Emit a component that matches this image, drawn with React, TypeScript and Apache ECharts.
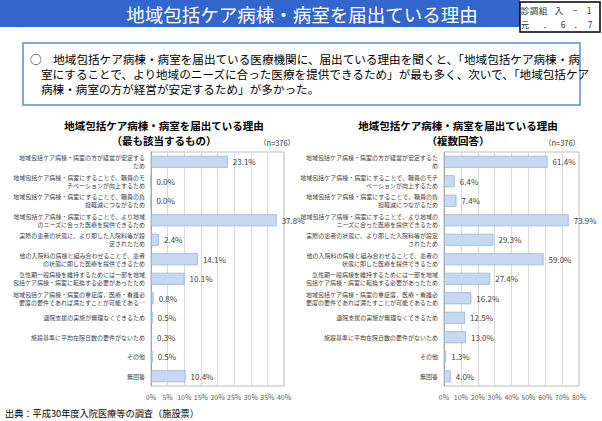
import React, { useEffect, useRef } from "react";
import * as echarts from "echarts";

const leftCategories = [
  "地域包括ケア病棟・病室の方が経営が安定する\nため",
  "地域包括ケア病棟・病室にすることで、職員のモ\nチベーションが向上するため",
  "地域包括ケア病棟・病室にすることで、職員の負\n担軽減につながるため",
  "地域包括ケア病棟・病室にすることで、より地域\nのニーズに合った医療を提供できるため",
  "実際の患者の状態に、より即した入院料等が設\n定されたため",
  "他の入院料の病棟と組み合わせることで、患者\nの状態に即した医療を提供できるため",
  "急性期一般病棟を維持するためには一部を地域\n包括ケア病棟・病室に転換する必要があったため",
  "地域包括ケア病棟・病室の重症度，医療・看護必\n要度の要件であれば満たすことが可能である…",
  "退院支援の実施が無理なくできるため",
  "施設基準に平均在院日数の要件がないため",
  "その他",
  "無回答",
];

const rightCategories = [
  "地域包括ケア病棟・病室の方が経営が安定するた\nめ",
  "地域包括ケア病棟・病室にすることで、職員のモチ\nベーションが向上するため",
  "地域包括ケア病棟・病室にすることで、職員の負\n担軽減につながるため",
  "地域包括ケア病棟・病室にすることで、より地域の\nニーズに合った医療を提供できるため",
  "実際の患者の状態に、より即した入院料等が設定\nされたため",
  "他の入院料の病棟と組み合わせることで、患者の\n状態に即した医療を提供できるため",
  "急性期一般病棟を維持するためには一部を地域\n包括ケア病棟・病室に転換する必要があったため",
  "地域包括ケア病棟・病室の重症度，医療・看護必\n要度の要件であれば満たすことが可能であるため",
  "退院支援の実施が無理なくできるため",
  "施設基準に平均在院日数の要件がないため",
  "その他",
  "無回答",
];

const leftValues = [23.1, 0.0, 0.0, 37.8, 2.4, 14.1, 10.1, 0.8, 0.5, 0.3, 0.5, 10.4];
const rightValues = [61.4, 6.4, 7.4, 73.9, 29.3, 59.0, 27.4, 16.2, 12.5, 13.0, 1.3, 4.0];

const leftAxisMax = 40;
const leftAxisInterval = 5;
const rightAxisMax = 80;
const rightAxisInterval = 10;

const headerTitle = "地域包括ケア病棟・病室を届出ている理由";
const summaryLines = [
  "○　地域包括ケア病棟・病室を届出ている医療機関に、届出ている理由を聞くと、「地域包括ケア病棟・病",
  "室にすることで、より地域のニーズに合った医療を提供できるため」が最も多く、次いで、「地域包括ケア",
  "病棟・病室の方が経営が安定するため」が多かった。",
];
const leftTitle = ["地域包括ケア病棟・病室を届出ている理由", "（最も該当するもの）"];
const rightTitle = ["地域包括ケア病棟・病室を届出ている理由", "（複数回答）"];
const sampleLabel = "（n=376）";
const footer = "出典：平成30年度入院医療等の調査（施設票）";
const tagLine1 = ["診", "調", "組", "入", "−", "1"];
const tagLine2 = ["元", "．", "6", "．", "7"];

const FONT = "'Noto Sans CJK JP', 'Noto Sans', sans-serif";

export default function App() {
  const ref = useRef<HTMLDivElement>(null);

  useEffect(() => {
    document.body.style.margin = "0";
    if (!ref.current) return;
    const chart = echarts.init(ref.current, null, { renderer: "svg" });

    const tag1X = [525, 534, 543, 559, 575, 589];
    const tag2X = [525, 547, 563, 578, 590];

    const graphic: any[] = [
      { type: "rect", shape: { x: 0, y: 0, width: 520, height: 27 }, style: { fill: "#3366cc" } },
      {
        type: "text",
        x: 302,
        y: 14,
        style: {
          text: headerTitle,
          fill: "#ffffff",
          fontSize: 18.5,
          fontFamily: FONT,
          align: "center",
          verticalAlign: "middle",
        },
      },
      {
        type: "rect",
        shape: { x: 520, y: 2, width: 80, height: 30 },
        style: { fill: "#ffffff", stroke: "#000000", lineWidth: 1.5 },
      },
      ...tagLine1.map((c, i) => ({
        type: "text",
        x: tag1X[i],
        y: 10,
        style: { text: c, fill: "#333", fontSize: 8.5, fontFamily: FONT, align: "center", verticalAlign: "middle" },
      })),
      ...tagLine2.map((c, i) => ({
        type: "text",
        x: tag2X[i],
        y: 24,
        style: { text: c, fill: "#333", fontSize: 8.5, fontFamily: FONT, align: "center", verticalAlign: "middle" },
      })),
      {
        type: "rect",
        shape: { x: 23, y: 43, width: 557, height: 62 },
        style: { fill: "#ffffff", stroke: "#5b8ad6", lineWidth: 1.5 },
      },
      ...summaryLines.map((t, i) => ({
        type: "text",
        x: i === 0 ? 30 : 41,
        y: 59 + i * 15,
        style: { text: t, fill: "#000", fontSize: 11.6, fontFamily: FONT, align: "left", verticalAlign: "middle" },
      })),
      ...leftTitle.map((t, i) => ({
        type: "text",
        x: 164,
        y: 125 + i * 15,
        style: { text: t, fill: "#000", fontSize: 10.5, fontWeight: "bold", fontFamily: FONT, align: "center", verticalAlign: "middle" },
      })),
      ...rightTitle.map((t, i) => ({
        type: "text",
        x: 458,
        y: 125 + i * 15,
        style: { text: t, fill: "#000", fontSize: 10.5, fontWeight: "bold", fontFamily: FONT, align: "center", verticalAlign: "middle" },
      })),
      {
        type: "text",
        x: 277,
        y: 142,
        style: { text: sampleLabel, fill: "#333", fontSize: 7.5, fontFamily: FONT, align: "center", verticalAlign: "middle" },
      },
      {
        type: "text",
        x: 562,
        y: 142,
        style: { text: sampleLabel, fill: "#333", fontSize: 7.5, fontFamily: FONT, align: "center", verticalAlign: "middle" },
      },
      {
        type: "text",
        x: 5,
        y: 413,
        style: { text: footer, fill: "#000", fontSize: 9.2, fontFamily: FONT, align: "left", verticalAlign: "middle" },
      },
    ];

    const yAxisCommon = {
      type: "category",
      inverse: true,
      axisTick: { show: false },
      axisLine: { show: true, lineStyle: { color: "#a6a6a6", width: 1 } },
      axisLabel: { fontSize: 6, lineHeight: 8.2, color: "#404040", margin: 6, fontFamily: FONT, align: "right" },
    };
    const xAxisCommon = {
      type: "value",
      min: 0,
      axisLine: { show: false },
      axisTick: { show: false },
      splitLine: { show: true, lineStyle: { color: "#d9d9d9", width: 1 } },
      axisLabel: { formatter: "{value}%", fontSize: 7, color: "#595959", margin: 7, fontFamily: FONT },
    };
    const seriesCommon = {
      type: "bar",
      barWidth: 12,
      itemStyle: { color: "#c7d9f1", borderColor: "#95b3e0", borderWidth: 0.8 },
      label: {
        show: true,
        position: "right",
        distance: 5,
        fontSize: 8,
        color: "#404040",
        fontFamily: FONT,
        formatter: (p: any) => p.value.toFixed(1) + "%",
      },
    };

    chart.setOption({
      animation: false,
      backgroundColor: "#ffffff",
      textStyle: { fontFamily: FONT },
      grid: [
        { left: 151, right: 602 - 284, top: 152, height: 234, show: true, borderColor: "#bfbfbf", borderWidth: 1 },
        { left: 444, right: 602 - 579, top: 152, height: 234, show: true, borderColor: "#bfbfbf", borderWidth: 1 },
      ],
      xAxis: [
        { ...xAxisCommon, gridIndex: 0, max: leftAxisMax, interval: leftAxisInterval },
        { ...xAxisCommon, gridIndex: 1, max: rightAxisMax, interval: rightAxisInterval },
      ],
      yAxis: [
        { ...yAxisCommon, gridIndex: 0, data: leftCategories },
        { ...yAxisCommon, gridIndex: 1, data: rightCategories },
      ],
      series: [
        { ...seriesCommon, xAxisIndex: 0, yAxisIndex: 0, data: leftValues },
        { ...seriesCommon, xAxisIndex: 1, yAxisIndex: 1, data: rightValues },
      ],
      graphic,
    });

    return () => chart.dispose();
  }, []);

  return <div ref={ref} style={{ width: 602, height: 421 }} />;
}
